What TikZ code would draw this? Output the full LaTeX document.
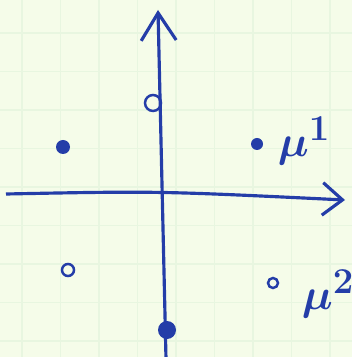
\documentclass[tikz,border=0pt]{standalone}
\usetikzlibrary{arrows.meta}
\definecolor{InkClr}{rgb}{0.14,0.24,0.66}
\definecolor{PaperClr}{rgb}{0.96,0.99,0.915}
\definecolor{GridClr}{rgb}{0.91,0.965,0.88}

\begin{document}
\begin{tikzpicture}[x=2mm,y=2mm,
  axis/.style={line width=1.8pt,color=InkClr},
  fdot/.style={circle,fill=InkClr,inner sep=0pt},
  odot/.style={circle,draw=InkClr,line width=1.4pt,inner sep=0pt},
  lbl/.style={text=InkClr,font=\Huge\boldmath}]

\fill[PaperClr] (-15.8,-16.2) rectangle (19.4,19.5);
\useasboundingbox (-15.8,-16.2) rectangle (19.4,19.5);

% squared paper
\foreach \i in {0,...,8}{
  \draw[GridClr,line width=0.6pt] ({-13.6+3.85*\i},-16.2) -- ++(0,35.7);
  \draw[GridClr,line width=0.6pt] (-15.8,{16.2-3.85*\i}) -- ++(35.2,0);
}

\coordinate (xl) at (-15.2,0.1);
\coordinate (xr) at (18.7,-0.5);
\coordinate (yb) at (0.8,-16.4);
\coordinate (yt) at (0,18.5);

\draw[axis,-{Straight Barb[length=4mm,width=6.5mm]}] (xl) .. controls (0,0.4) .. (xr);
\draw[axis,-{Straight Barb[length=5.5mm,width=7mm]}] (yb) -- (yt);

\node[odot,minimum size=3.2mm] (z0) at (-0.5,9.2) {};
\node[fdot,minimum size=2.8mm] (p1) at (-9.5,4.8) {};
\node[fdot,minimum size=2.4mm] (p2) at (9.9,5.1) {};
\node[odot,minimum size=2.4mm] (z1) at (-9,-7.5) {};
\node[odot,minimum size=2mm] (z2) at (11.5,-8.8) {};
\node[fdot,minimum size=3.6mm] (p0) at (0.9,-13.5) {};

\node[lbl] (m1) at (14.6,5.4) {$\mu^1$};
\node[lbl] (m2) at (17.0,-9.9) {$\mu^2$};

\end{tikzpicture}
\end{document}
